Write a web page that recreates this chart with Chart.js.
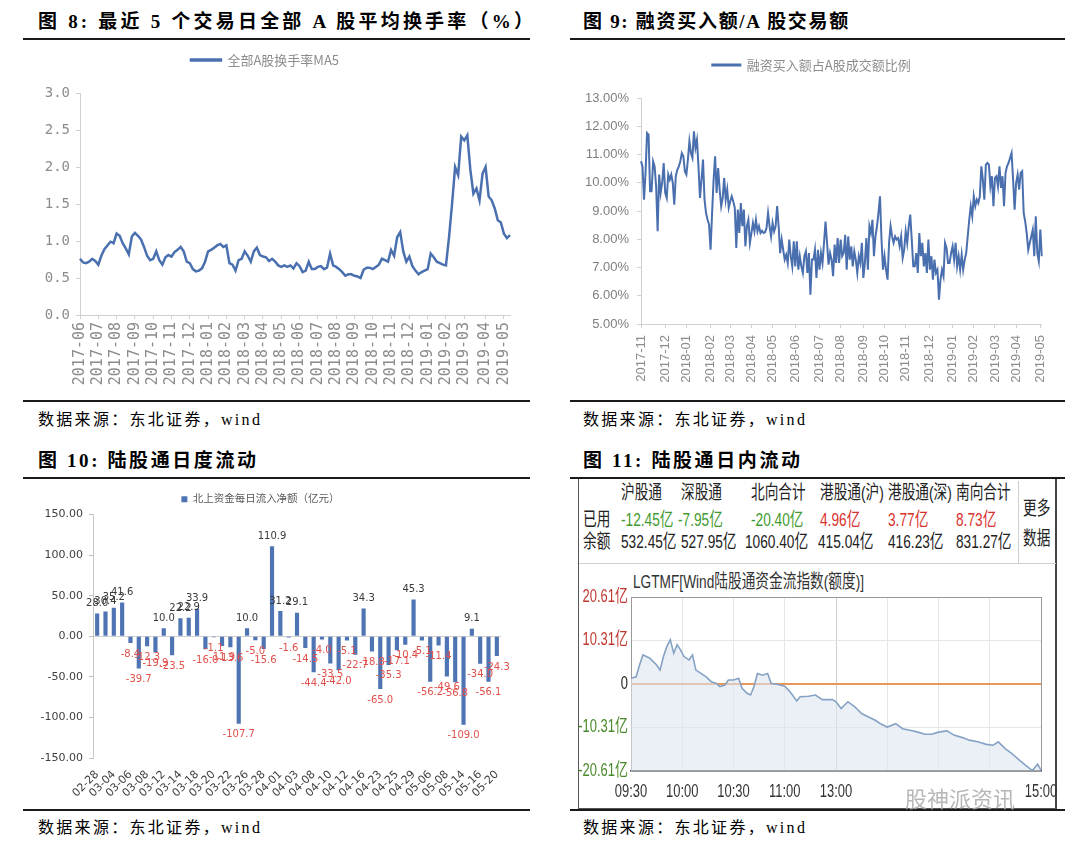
<!DOCTYPE html>
<html><head><meta charset="utf-8">
<script src="https://cdn.jsdelivr.net/npm/chart.js@4.4.0/dist/chart.umd.min.js"></script>
<style>
body{margin:0;width:1080px;height:843px;background:#fff;position:relative;overflow:hidden;font-family:"Liberation Serif","Noto Sans CJK SC",serif;color:#000;}
.t{position:absolute;white-space:nowrap;}
.title{font-weight:bold;font-size:19px;line-height:24px;}
.src{font-size:16px;line-height:22px;letter-spacing:2.3px;}
.rule{position:absolute;height:2px;background:#1a1a1a;}
canvas{position:absolute;}
.tb{position:absolute;white-space:nowrap;font-family:"Liberation Sans","Noto Sans CJK SC",sans-serif;font-size:19px;line-height:22px;transform:scaleX(.72);transform-origin:0 50%;color:#222;}
.g{color:#3f9a2f;} .r{color:#d8322e;}
</style></head>
<body>
<div class="t title" style="left:38px;top:10px;letter-spacing:3.2px;">图 8: 最近 5 个交易日全部 A 股平均换手率（%）</div>
<div class="rule" style="left:23px;top:38px;width:507px;"></div>
<div class="t title" style="left:583px;top:10px;letter-spacing:1.7px;">图 9: 融资买入额/A 股交易额</div>
<div class="rule" style="left:570px;top:38px;width:495px;"></div>
<div class="rule" style="left:23px;top:400px;width:507px;"></div>
<div class="rule" style="left:570px;top:400px;width:495px;"></div>
<div class="t src" style="left:38px;top:409px;">数据来源：东北证券，wind</div>
<div class="t src" style="left:583px;top:409px;">数据来源：东北证券，wind</div>
<div class="t title" style="left:38px;top:449px;letter-spacing:2.6px;">图 10: 陆股通日度流动</div>
<div class="t title" style="left:583px;top:449px;letter-spacing:2.6px;">图 11: 陆股通日内流动</div>
<div class="rule" style="left:23px;top:477px;width:507px;"></div>
<div class="rule" style="left:570px;top:477px;width:495px;"></div>
<div class="rule" style="left:23px;top:809px;width:507px;"></div>
<div class="rule" style="left:570px;top:809px;width:495px;"></div>
<div class="t src" style="left:38px;top:817px;">数据来源：东北证券，wind</div>
<div class="t src" style="left:583px;top:817px;">数据来源：东北证券，wind</div>

<div style="position:absolute;left:578px;top:479px;width:479px;height:330px;border:1px solid #555;border-top:none;border-right:2px solid #444;box-sizing:border-box;"></div>
<div style="position:absolute;left:1018px;top:481px;width:1px;height:82px;background:#cfcfcf;"></div>
<div style="position:absolute;left:579px;top:563px;width:477px;height:1px;background:#cfcfcf;"></div>
<div class="tb" style="left:621px;top:482px;">沪股通</div>
<div class="tb" style="left:681px;top:482px;">深股通</div>
<div class="tb" style="left:751px;top:482px;">北向合计</div>
<div class="tb" style="left:820px;top:482px;">港股通(沪)</div>
<div class="tb" style="left:888px;top:482px;">港股通(深)</div>
<div class="tb" style="left:956px;top:482px;">南向合计</div>
<div class="tb" style="left:583px;top:509px;">已用</div>
<div class="tb g" style="left:621px;top:509px;">-12.45亿</div>
<div class="tb g" style="left:678px;top:509px;">-7.95亿</div>
<div class="tb g" style="left:751px;top:509px;">-20.40亿</div>
<div class="tb r" style="left:820px;top:509px;">4.96亿</div>
<div class="tb r" style="left:888px;top:509px;">3.77亿</div>
<div class="tb r" style="left:956px;top:509px;">8.73亿</div>
<div class="tb" style="left:583px;top:531px;">余额</div>
<div class="tb" style="left:621px;top:531px;">532.45亿</div>
<div class="tb" style="left:681px;top:531px;">527.95亿</div>
<div class="tb" style="left:745px;top:531px;">1060.40亿</div>
<div class="tb" style="left:818px;top:531px;">415.04亿</div>
<div class="tb" style="left:888px;top:531px;">416.23亿</div>
<div class="tb" style="left:956px;top:531px;">831.27亿</div>
<div class="tb" style="left:1023px;top:498px;">更多</div>
<div class="tb" style="left:1023px;top:528px;">数据</div>
<div class="tb" style="left:633px;top:571px;color:#333;font-size:19px;">LGTMF[Wind陆股通资金流指数(额度)]</div>

<canvas id="c8" width="525" height="357" style="left:20px;top:43px;"></canvas>
<canvas id="c9" width="482" height="352" style="left:581px;top:48px;"></canvas>
<canvas id="c10" width="520" height="320" style="left:20px;top:488px;"></canvas>
<canvas id="c11" width="490" height="219" style="left:570px;top:587px;"></canvas>
<div class="t" style="left:905px;top:781px;font-family:'Noto Sans CJK SC';font-size:22px;color:rgba(170,170,170,0.85);">股神派资讯</div>

<script>
// ---------- Fig 8 data ----------
const months8 = ['2017-06','2017-07','2017-08','2017-09','2017-10','2017-11','2017-12','2018-01','2018-02','2018-03','2018-04','2018-05','2018-06','2018-07','2018-08','2018-09','2018-10','2018-11','2018-12','2019-01','2019-02','2019-03','2019-04','2019-05'];
const turnover8 = [
 [0.76,0.71,0.70,0.72,0.76,0.73],
 [0.68,0.80,0.89,0.94,0.99,0.97],
 [1.10,1.07,0.97,0.90,0.82,1.06],
 [1.11,1.07,1.02,0.92,0.80,0.74],
 [0.76,0.86,0.74,0.68,0.78,0.81],
 [0.79,0.85,0.88,0.92,0.86,0.72],
 [0.70,0.62,0.59,0.60,0.63,0.72],
 [0.86,0.88,0.91,0.94,0.96,0.92],
 [0.94,0.70,0.68,0.60,0.74,0.76],
 [0.86,0.80,0.72,0.86,0.91,0.81],
 [0.79,0.78,0.73,0.76,0.72,0.67],
 [0.65,0.67,0.65,0.67,0.63,0.70],
 [0.66,0.58,0.60,0.72,0.62,0.62],
 [0.65,0.66,0.62,0.64,0.83,0.67],
 [0.65,0.62,0.58,0.53,0.55,0.55],
 [0.53,0.52,0.50,0.61,0.64,0.64],
 [0.62,0.65,0.68,0.76,0.74,0.72],
 [0.88,0.80,1.05,1.12,0.86,0.72],
 [0.79,0.66,0.60,0.55,0.58,0.60],
 [0.62,0.83,0.78,0.72,0.70,0.68],
 [0.67,1.05,1.50,2.00,1.89,2.41],
 [2.36,2.43,1.96,1.64,1.71,1.55,1.91],
 [2.00,1.60,1.55,1.44,1.28,1.25],
 [1.10,1.04,1.08]
];

// ---------- Fig 9 data ----------
const months9 = ['2017-11','2017-12','2018-01','2018-02','2018-03','2018-04','2018-05','2018-06','2018-07','2018-08','2018-09','2018-10','2018-11','2018-12','2019-01','2019-02','2019-03','2019-04','2019-05'];
const ratio9 = [
 [10.76,10.58,9.40,10.35,11.76,11.70,9.70,9.70,10.76,10.58,9.87,8.28,10.29,9.64,10.00,10.70],
 [9.64,9.46,10.29,10.11,10.29,10.00,9.22,10.23,10.46,10.58,10.76,11.05,10.94,10.40],
 [10.29,10.82,11.47,11.05,10.88,11.82,11.23,11.52,10.58,9.46,10.11,10.82,9.40,8.93,8.69,8.52],
 [7.63,8.93,10.11,10.94,9.64,10.52,9.76,9.17,9.46,10.17,9.40,9.76,9.11],
 [9.34,9.52,9.34,9.11,7.69,9.05,8.22,9.28,8.46,9.05,7.75,8.46,8.69,7.87],
 [8.22,8.58,8.28,8.69,8.28,8.46,8.22,8.30,8.22,8.25,8.40,8.93,8.46,8.10],
 [8.58,8.28,8.46,9.17,8.46,7.51,7.99,7.63,7.28,7.45,7.16,7.99,7.40,7.04,7.93],
 [7.04,7.93,6.92,7.40,7.04,6.81,7.40,7.57,6.81,7.51,6.04,7.28,7.28,7.63,6.63,7.63],
 [6.92,7.51,7.16,7.87,8.63,7.87,7.10,7.51,7.28,6.69,7.81,7.16,8.04,7.16],
 [7.99,7.40,7.51,8.16,6.92,8.10,7.28,7.75,7.04,7.57,7.28,6.81,7.40,7.16,7.87],
 [6.63,7.16,8.04,6.92,8.46,8.22,8.69,7.40,8.10,8.46,8.93,9.52,7.99,6.92],
 [7.40,6.92,6.57,7.87,8.46,8.10,7.87,8.10,7.99,8.04,7.75,8.10,7.34,7.63],
 [8.28,7.87,8.46,8.87,7.99,7.04,7.04,7.51,6.81,8.22,7.40,7.87,7.04,7.51,6.81,7.99],
 [6.92,7.40,6.57,7.28,6.81,6.92,5.86,6.57,6.92,6.69,7.87,7.69,7.16,7.16,7.51],
 [7.75,7.28,7.87,7.04,7.40,6.92,7.45,6.92,7.28,7.51,8.10,8.69,9.17,8.81],
 [9.52,9.17,9.40,9.28,9.52,10.58,10.11,9.40,10.64,10.70,10.64,9.87,10.23,9.17],
 [10.17,10.23,9.87,10.58,9.82,10.23,9.17,10.35,10.58,10.70,10.88,11.05,10.11,9.05],
 [10.00,10.29,9.76,10.35,10.41,8.93,8.63,8.22,7.63,7.87,8.10,8.34,7.40,8.81,7.51,7.22],
 [8.34,7.40]
];

// ---------- Fig 10 data ----------
const dates10 = ['02-28','03-01','03-04','03-05','03-06','03-07','03-08','03-11','03-12','03-13','03-14','03-15','03-18','03-19','03-20','03-21','03-22','03-25','03-26','03-27','03-28','03-29','04-01','04-02','04-03','04-04','04-08','04-09','04-10','04-11','04-12','04-15','04-16','04-17','04-23','04-24','04-25','04-26','04-29','04-30','05-06','05-07','05-08','05-09','05-14','05-15','05-16','05-17','05-20'];
const netInflow10 = [28.0,30.4,35.2,41.6,-8.4,-39.7,-12.3,-19.9,10.0,-23.5,22.2,22.9,33.9,-16.0,-1.1,-11.9,-13.6,-107.7,10.0,-5.0,-15.6,110.9,31.2,-1.6,29.1,-14.5,-44.4,-4.0,-33.5,-42.0,-5.1,-22.7,34.3,-18.8,-65.0,-35.3,-17.1,-10.4,45.3,-5.1,-56.2,-11.4,-49.6,-56.8,-109.0,9.1,-34.0,-56.1,-24.3];

// ---------- Fig 11 data ----------
const flowTimes11 = ['09:30','09:33','09:35','09:37','09:39','09:41','09:43','09:45','09:47','09:49','09:51','09:53','09:55','09:57','09:59','10:01','10:04','10:06','10:08','10:11','10:14','10:17','10:20','10:22','10:25','10:27','10:30','10:33','10:35','10:38','10:40','10:42','10:44','10:47','10:50','10:52','10:56','11:00','11:03','11:07','11:09','11:14','11:18','11:22','11:28','11:30','13:03','13:07','13:11','13:15','13:19','13:23','13:26','13:30','13:35','13:39','13:44','13:48','13:52','13:56','14:00','14:05','14:09','14:14','14:18','14:23','14:28','14:32','14:35','14:39','14:43','14:47','14:51','14:55','14:58','15:00'];
const flowValues11 = [1.35,1.7,4.5,6.9,6.5,6.1,5.3,4.5,3.3,6.5,8.9,10.5,7.3,9.3,8.1,6.5,5.7,6.9,3.3,2.5,1.7,0.55,0.15,-0.6,-0.25,0.95,0.95,1.35,-1.0,-2.2,-2.6,-0.6,2.5,2.1,2.5,0.15,-0.1,-0.5,-1.8,-4.0,-3.0,-2.9,-2.6,-3.7,-3.7,-4.2,-5.8,-4.2,-5.4,-7.0,-7.8,-8.6,-9.4,-10.2,-9.4,-10.6,-11.0,-11.4,-11.9,-11.9,-11.4,-11.1,-12.1,-12.7,-13.3,-13.7,-14.3,-14.5,-13.7,-15.3,-16.5,-17.9,-19.3,-20.5,-19.0,-20.4];
const flowYTicks11 = [-20.61,-10.31,0,10.31,20.61];
const flowXTicks11 = ['09:30','10:00','10:30','11:00','13:00','13:30','14:00','14:30','15:00'];
const flowXShown11 = ['09:30','10:00','10:30','11:00','13:00','15:00'];

Chart.defaults.animation = false;

function flatten(months, groups){
  const labels=[], values=[], starts=new Set();
  months.forEach((m,i)=>{ groups[i].forEach((v,j)=>{ if(j===0) starts.add(labels.length); labels.push(m); values.push(v); }); });
  return {labels, values, starts};
}
const f8 = flatten(months8, turnover8);
const f9 = flatten(months9, ratio9);

const mono = '"DejaVu Sans Mono", monospace';
const cjkSans = '"Noto Sans CJK SC", sans-serif';
// blank title used only as a spacer between the legend and the plot
const spacer = {display:true, text:'', font:{size:1}, padding:{top:0, bottom:15.3}};

// Fig 8
new Chart(document.getElementById('c8'), {
  type:'line',
  data:{labels:f8.labels, datasets:[{label:'全部A股换手率MA5', data:f8.values, borderColor:'#4a70b0', backgroundColor:'#4a70b0', borderWidth:2.5, pointRadius:0, tension:0}]},
  options:{responsive:false, animation:false,
    layout:{padding:{left:0,right:35,top:0,bottom:0}},
    plugins:{legend:{weight:3000, labels:{boxWidth:30, boxHeight:1, padding:10.5, color:'#8c8c8c', font:{size:13, family:cjkSans}}},
             title:spacer, tooltip:{enabled:false}},
    scales:{
      x:{grid:{drawOnChartArea:false, tickLength:4, color:'#d0d0d0'}, border:{color:'#d0d0d0'},
         ticks:{autoSkip:false, minRotation:90, maxRotation:90, padding:3, color:'#8c8c8c', font:{family:mono, size:15},
           callback(v,i){ return f8.starts.has(i) ? this.getLabelForValue(v) : null; }},
         afterFit(s){ s.height = 85; }},
      y:{min:0, max:3, ticks:{stepSize:0.5, padding:6, color:'#8c8c8c', font:{family:mono, size:14}, callback:v=>Number(v).toFixed(1)},
         grid:{drawOnChartArea:false, tickLength:4, color:'#d0d0d0'}, border:{color:'#d0d0d0'},
         afterFit(s){ s.width = 60; }}
    }
  }
});

// Fig 9
new Chart(document.getElementById('c9'), {
  type:'line',
  data:{labels:f9.labels, datasets:[{label:'融资买入额占A股成交额比例', data:f9.values, borderColor:'#4a6fae', backgroundColor:'#4a6fae', borderWidth:2, pointRadius:0, tension:0}]},
  options:{responsive:false, animation:false,
    layout:{padding:{left:0,right:21,top:0,bottom:0}},
    plugins:{legend:{weight:3000, labels:{boxWidth:28, boxHeight:1, padding:10.5, color:'#8c8c8c', font:{size:13, family:cjkSans}}},
             title:spacer, tooltip:{enabled:false}},
    scales:{
      x:{grid:{drawOnChartArea:false, tickLength:4, color:'#d0d0d0'}, border:{color:'#d0d0d0'},
         ticks:{autoSkip:false, minRotation:90, maxRotation:90, padding:7, color:'#8c8c8c', font:{family:'"Liberation Sans", sans-serif', size:13},
           callback(v,i){ return f9.starts.has(i) ? this.getLabelForValue(v) : null; }},
         afterFit(s){ s.height = 76; }},
      y:{min:5, max:13, ticks:{stepSize:1, padding:8, color:'#7f7f7f', font:{family:'"Liberation Sans", sans-serif', size:13}, callback:v=>Number(v).toFixed(2)+'%'},
         grid:{drawOnChartArea:false, tickLength:4, color:'#d0d0d0'}, border:{color:'#d0d0d0'},
         afterFit(s){ s.width = 60; }}
    }
  }
});

// Fig 10
const barLabels10 = {
  id:'barLabels10',
  afterDatasetsDraw(chart){
    const ctx = chart.ctx, meta = chart.getDatasetMeta(0), data = chart.data.datasets[0].data;
    ctx.save();
    ctx.font = '10px "DejaVu Sans", sans-serif';
    ctx.textAlign = 'center'; ctx.textBaseline = 'middle';
    meta.data.forEach((bar,i)=>{
      const v = data[i];
      ctx.fillStyle = v >= 0 ? '#3a3a3a' : '#e0504a';
      ctx.fillText(v.toFixed(1), bar.x, v >= 0 ? bar.y - 10 : bar.y + 11);
    });
    ctx.restore();
  }
};
new Chart(document.getElementById('c10'), {
  type:'bar',
  data:{labels:dates10, datasets:[{label:'北上资金每日流入净额（亿元）', data:netInflow10, backgroundColor:'#4f74b4', borderWidth:0, barPercentage:0.5, categoryPercentage:1}]},
  options:{responsive:false, animation:false,
    layout:{padding:{left:0,right:39,top:0,bottom:0}},
    plugins:{legend:{labels:{boxWidth:6, boxHeight:6, padding:6, color:'#595959', font:{size:10.5, family:'"Liberation Serif","Noto Sans CJK SC",serif'}}}, tooltip:{enabled:false}},
    scales:{
      x:{grid:{display:false}, border:{display:false},
         ticks:{autoSkip:false, minRotation:45, maxRotation:45, padding:2, color:'#404040', font:{family:'"DejaVu Sans", sans-serif', size:11},
           callback(v,i){ return i % 2 === 0 ? this.getLabelForValue(v) : null; }},
         afterFit(s){ s.height = 50; }},
      y:{min:-150, max:150, ticks:{stepSize:50, padding:6, color:'#404040', font:{family:'"DejaVu Sans", sans-serif', size:11}, callback:v=>Number(v).toFixed(2)},
         grid:{color:c=> (c.tick && c.tick.value === 0) ? '#d0d0d0' : 'rgba(0,0,0,0)', tickColor:'#c0c0c0', tickLength:4},
         border:{color:'#c8c8c8'},
         afterFit(s){ s.width = 73; }}
    }
  },
  plugins:[barLabels10]
});

// Fig 11
function tradeMinute(t){ const [h,m] = t.split(':').map(Number); let x = h*60 + m - 570; if (h >= 13) x -= 90; return x; }
const condensedLabels11 = {
  id:'condensedLabels11',
  afterDraw(chart){
    const {ctx, chartArea} = chart, xs = chart.scales.x, ys = chart.scales.y;
    ctx.save();
    ctx.font = '18px "Liberation Sans","Noto Sans CJK SC",sans-serif';
    ctx.textBaseline = 'middle'; ctx.textAlign = 'right';
    flowYTicks11.forEach(v=>{
      ctx.fillStyle = v > 0 ? '#c0392f' : (v < 0 ? '#4a8a2a' : '#222');
      ctx.save(); ctx.translate(chartArea.left - 3, ys.getPixelForValue(v)); ctx.scale(0.72, 1);
      ctx.fillText(v === 0 ? '0' : v.toFixed(2) + '亿', 0, 0); ctx.restore();
    });
    ctx.textAlign = 'center'; ctx.textBaseline = 'top'; ctx.fillStyle = '#333';
    flowXShown11.forEach(t=>{
      ctx.save(); ctx.translate(xs.getPixelForValue(tradeMinute(t)), chartArea.bottom + 12); ctx.scale(0.72, 1);
      ctx.fillText(t, 0, 0); ctx.restore();
    });
    ctx.restore();
  }
};
new Chart(document.getElementById('c11'), {
  type:'line',
  data:{datasets:[{label:'LGTMF', data:flowTimes11.map((t,i)=>({x:tradeMinute(t), y:flowValues11[i]})),
    borderColor:'#86a2c4', borderWidth:1.6, pointRadius:0, tension:0, fill:'start', backgroundColor:'rgba(222,230,242,0.6)'}]},
  options:{responsive:false, animation:false,
    layout:{padding:{left:0,right:19,top:10,bottom:0}},
    plugins:{legend:{display:false}, tooltip:{enabled:false}},
    scales:{
      x:{type:'linear', min:0, max:240,
         afterBuildTicks(s){ s.ticks = flowXTicks11.map(t=>({value:tradeMinute(t)})); },
         ticks:{display:false},
         grid:{drawTicks:false, color:c=> (c.tick && c.tick.value === 240) ? '#999' : (c.tick && c.tick.value === 120 ? '#cfcfcf' : '#e6e6e6')},
         border:{color:'#444', width:1.5},
         afterFit(s){ s.height = 35; s.paddingRight = 0; s.paddingLeft = 0; }},
      y:{min:-20.61, max:20.61,
         afterBuildTicks(s){ s.ticks = flowYTicks11.map(v=>({value:v})); },
         ticks:{display:false},
         grid:{drawTicks:false, color:c=> (c.tick && c.tick.value === 0) ? '#e8965a' : (c.tick && c.tick.value > 20 ? '#999' : '#e6e6e6'),
               lineWidth:c=> (c.tick && c.tick.value === 0) ? 2 : 1},
         border:{color:'#999'},
         afterFit(s){ s.width = 61; s.paddingTop = 0; s.paddingBottom = 0; }}
    }
  },
  plugins:[condensedLabels11]
});
</script>
</body></html>
